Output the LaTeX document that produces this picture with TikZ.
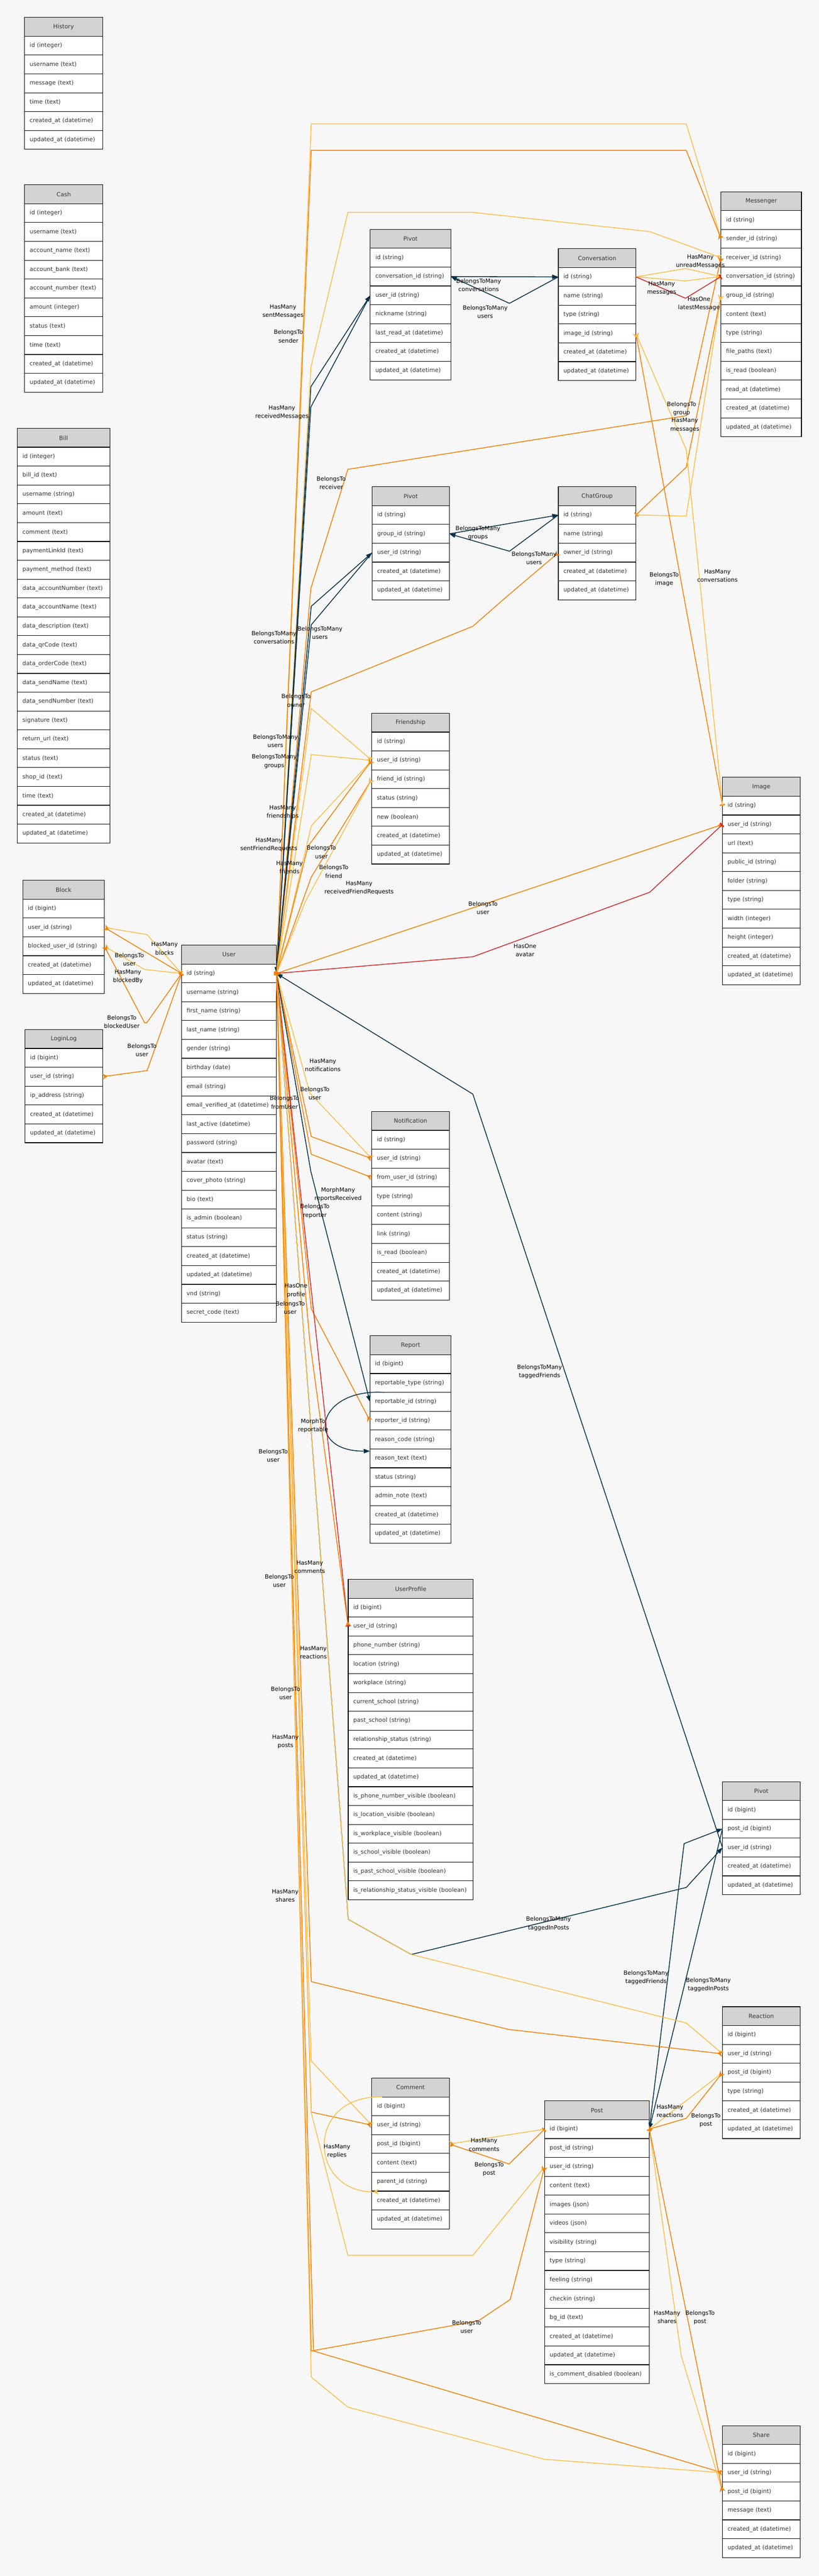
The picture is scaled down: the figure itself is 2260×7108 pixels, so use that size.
\documentclass[tikz,border=0pt]{standalone}
\usepackage{fontspec}
\setmainfont{DejaVu Sans}
\usetikzlibrary{arrows.meta}
\definecolor{bgc}{HTML}{F7F7F7}
\definecolor{hdrc}{HTML}{D3D3D3}
\definecolor{txc}{HTML}{333333}
\definecolor{loc}{HTML}{FCBF49}
\definecolor{orc}{HTML}{F77F00}
\definecolor{nvc}{HTML}{003049}
\definecolor{rdc}{HTML}{D62828}
\tikzset{
  tbl/.style={draw=black, line width=1.6pt, anchor=north west, minimum height=52pt,
    inner xsep=14pt, inner ysep=0pt, outer sep=0pt, text=txc, font=\fontsize{16}{19}\selectfont},
  hdr/.style={tbl, fill=hdrc, align=center},
  rw/.style={tbl, fill=white, align=left},
  lbl/.style={align=center, inner sep=0pt, text=black, font=\fontsize{16}{23}\selectfont},
  edge/.style={line width=2.2pt, line join=round},
  hm/.style={edge, draw=loc, -{Stealth[reversed,length=15pt,width=16pt]}},
  bt/.style={edge, draw=orc, {Stealth[reversed,length=15pt,width=16pt]}-{Rectangle[length=4pt,width=14pt]}},
  ho/.style={edge, draw=rdc, -{Rectangle[length=4pt,width=14pt]}},
  bm/.style={edge, draw=nvc, -{Triangle[length=17pt,width=12pt]}}
}
\newcommand\ertable[6]{%
  \pgfmathsetmacro\ertw{#4-28}%
  \node[hdr, minimum width=#4pt, text width=\ertw pt] (#1) at (#2,#3) {\mbox{#5}};
  \foreach \rowtxt [count=\ri] in {#6}{%
    \node[rw, minimum width=#4pt, text width=\ertw pt] (#1-\ri) at (#2,#3+52*\ri) {\mbox{\rowtxt}};
  }%
}
\begin{document}
\begin{tikzpicture}[x=1pt,y=-1pt]
\fill[bgc] (0,0) rectangle (2260,7108);
\useasboundingbox (0,0) rectangle (2260,7108);

% ---------- tables ----------
\ertable{history}{68}{48}{215}{History}{id (integer),username (text),message (text),time (text),created\_at (datetime),updated\_at (datetime)}
\ertable{cash}{68}{510}{216}{Cash}{id (integer),username (text),account\_name (text),account\_bank (text),account\_number (text),amount (integer),status (text),time (text),created\_at (datetime),updated\_at (datetime)}
\ertable{bill}{48}{1182}{255}{Bill}{id (integer),bill\_id (text),username (string),amount (text),comment (text),paymentLinkId (text),payment\_method (text),data\_accountNumber (text),data\_accountName (text),data\_description (text),data\_qrCode (text),data\_orderCode (text),data\_sendName (text),data\_sendNumber (text),signature (text),return\_url (text),status (text),shop\_id (text),time (text),created\_at (datetime),updated\_at (datetime)}
\ertable{block}{63}{2429}{225}{Block}{id (bigint),user\_id (string),blocked\_user\_id (string),created\_at (datetime),updated\_at (datetime)}
\ertable{loginlog}{69}{2841}{214}{LoginLog}{id (bigint),user\_id (string),ip\_address (string),created\_at (datetime),updated\_at (datetime)}
\ertable{user}{501}{2608}{262}{User}{id (string),username (string),first\_name (string),last\_name (string),gender (string),birthday (date),email (string),email\_verified\_at (datetime),last\_active (datetime),password (string),avatar (text),cover\_photo (string),bio (text),is\_admin (boolean),status (string),created\_at (datetime),updated\_at (datetime),vnd (string),secret\_code (text)}
\ertable{pivotA}{1022}{633}{222}{Pivot}{id (string),conversation\_id (string),user\_id (string),nickname (string),last\_read\_at (datetime),created\_at (datetime),updated\_at (datetime)}
\ertable{conversation}{1541}{686}{214}{Conversation}{id (string),name (string),type (string),image\_id (string),created\_at (datetime),updated\_at (datetime)}
\ertable{messenger}{1990}{529}{222}{Messenger}{id (string),sender\_id (string),receiver\_id (string),conversation\_id (string),group\_id (string),content (text),type (string),file\_paths (text),is\_read (boolean),read\_at (datetime),created\_at (datetime),updated\_at (datetime)}
\ertable{pivotB}{1027}{1343}{213}{Pivot}{id (string),group\_id (string),user\_id (string),created\_at (datetime),updated\_at (datetime)}
\ertable{chatgroup}{1541}{1343}{214}{ChatGroup}{id (string),name (string),owner\_id (string),created\_at (datetime),updated\_at (datetime)}
\ertable{friendship}{1026}{1968}{214}{Friendship}{id (string),user\_id (string),friend\_id (string),status (string),new (boolean),created\_at (datetime),updated\_at (datetime)}
\ertable{image}{1994}{2145}{214}{Image}{id (string),user\_id (string),url (text),public\_id (string),folder (string),type (string),width (integer),height (integer),created\_at (datetime),updated\_at (datetime)}
\ertable{notification}{1026}{3067}{214}{Notification}{id (string),user\_id (string),from\_user\_id (string),type (string),content (string),link (string),is\_read (boolean),created\_at (datetime),updated\_at (datetime)}
\ertable{report}{1021}{3686}{224}{Report}{id (bigint),reportable\_type (string),reportable\_id (string),reporter\_id (string),reason\_code (string),reason\_text (text),status (string),admin\_note (text),created\_at (datetime),updated\_at (datetime)}
\ertable{userprofile}{961}{4358}{345}{UserProfile}{id (bigint),user\_id (string),phone\_number (string),location (string),workplace (string),current\_school (string),past\_school (string),relationship\_status (string),created\_at (datetime),updated\_at (datetime),is\_phone\_number\_visible (boolean),is\_location\_visible (boolean),is\_workplace\_visible (boolean),is\_school\_visible (boolean),is\_past\_school\_visible (boolean),is\_relationship\_status\_visible (boolean)}
\ertable{pivotC}{1994}{4916}{214}{Pivot}{id (bigint),post\_id (bigint),user\_id (string),created\_at (datetime),updated\_at (datetime)}
\ertable{reaction}{1994}{5537}{214}{Reaction}{id (bigint),user\_id (string),post\_id (bigint),type (string),created\_at (datetime),updated\_at (datetime)}
\ertable{comment}{1026}{5734}{214}{Comment}{id (bigint),user\_id (string),post\_id (bigint),content (text),parent\_id (string),created\_at (datetime),updated\_at (datetime)}
\ertable{post}{1503}{5797}{289}{Post}{id (bigint),post\_id (string),user\_id (string),content (text),images (json),videos (json),visibility (string),type (string),feeling (string),checkin (string),bg\_id (text),created\_at (datetime),updated\_at (datetime),is\_comment\_disabled (boolean)}
\ertable{share}{1994}{6693}{214}{Share}{id (bigint),user\_id (string),post\_id (bigint),message (text),created\_at (datetime),updated\_at (datetime)}

% ---------- connectors: messenger / conversation / groups ----------
\draw[hm] (user-1.east) -- (859,342) -- (1894,342) -- (messenger-2.west);
\draw[bt] (messenger-2.west) -- (1894,415) -- (859,415) -- (user-1.east);
\draw[hm] (user-1.east) -- (858,1013) -- (960,586) -- (1305,586) -- (1793,639) -- (messenger-3.west);
\draw[bt] (messenger-3.west) -- (1894,1147) -- (960,1295) -- (858,1623) -- (user-1.east);
\draw[bm] (user-1.east) -- (858,1067) -- (pivotA-3.west);
\draw[bm] (pivotA-3.west) -- (858,1123) -- (user-1.east);
\draw[bm] (pivotA-2.east) -- (conversation-1.west);
\draw[bm] (conversation-1.west) -- (1406,837) -- (pivotA-2.east);
\draw[hm] (conversation-1.east) -- (1892,741) -- (messenger-4.west);
\draw[hm] (conversation-1.east) -- (1892,775) -- (messenger-4.west);
\draw[ho] (conversation-1.east) -- (1892,823) -- (messenger-4.west);
\draw[bt] (messenger-5.west) -- (1894,1289) -- (chatgroup-1.east);
\draw[hm] (chatgroup-1.east) -- (1894,1424) -- (messenger-5.west);
\draw[bm] (pivotB-2.east) -- (chatgroup-1.west);
\draw[bm] (chatgroup-1.west) -- (1406,1521) -- (pivotB-2.east);
\draw[bm] (user-1.east) -- (859,1673) -- (pivotB-3.west);
\draw[bm] (pivotB-3.west) -- (859,1724) -- (user-1.east);
\draw[bt] (chatgroup-3.west) -- (1394,1650) -- (1305,1728) -- (859,1909) -- (user-1.east);
\draw[bt] (conversation-4.east) -- (1888,1650) -- (image-1.west);
\draw[hm] (image-1.west) -- (1936,1650) -- (1894,1241) -- (conversation-4.east);

% ---------- friendship / image ----------
\draw[hm] (user-1.east) -- (859,1955) -- (friendship-2.west);
\draw[hm] (user-1.east) -- (859,2082) -- (friendship-2.west);
\draw[hm] (user-1.east) -- (859,2279) -- (friendship-2.west);
\draw[bt] (friendship-2.west) -- (850,2335) -- (user-1.east);
\draw[bt] (friendship-3.west) -- (859,2420) -- (user-1.east);
\draw[hm] (user-1.east) -- (843,2487) -- (friendship-3.west);
\draw[bt] (image-2.west) -- (user-1.east);
\draw[ho] (user-1.east) -- (1305,2640) -- (1793,2462) -- (image-2.west);

% ---------- block / loginlog ----------
\draw[hm] (user-1.west) -- (406,2579) -- (block-2.east);
\draw[bt] (block-2.east) -- (user-1.west);
\draw[hm] (user-1.west) -- (399,2675) -- (block-3.east);
\draw[bt] (block-3.east) -- (399,2822) -- (405,2822) -- (user-1.west);
\draw[bt] (loginlog-2.east) -- (406,2954) -- (user-1.west);

% ---------- notification / report / profile ----------
\draw[hm] (user-1.east) -- (855,3016) -- (notification-2.west);
\draw[bt] (notification-2.west) -- (859,3136) -- (user-1.east);
\draw[bt] (notification-3.west) -- (859,3185) -- (user-1.east);
\draw[bm] (user-1.east) -- (858,3233) -- (report-3.west);
\draw[bt] (report-4.west) -- (859,3611) -- (user-1.east);
\coordinate (rloopA) at (1061,3842);
\coordinate (rloopB) at (1021,4004);
\draw[bm] (rloopA) .. controls (870,3830) and (840,4005) .. (rloopB);
\draw[ho] (user-1.east) -- (userprofile-2.west);
\draw[bt] (userprofile-2.west) -- (855,3700) -- (user-1.east);

% ---------- tagged pivot ----------
\draw[bm] (pivotC-3.west) -- (1305,3019) -- (user-1.east);
\draw[bm] (user-1.east) -- (961,5296) -- (1135,5393) -- (1894,5208) -- (pivotC-3.west);
\draw[bm] (post-1.east) -- (1888,5087) -- (pivotC-2.west);
\draw[bm] (pivotC-2.west) -- (post-1.east);

% ---------- reaction ----------
\draw[hm] (user-1.east) -- (961,5296) -- (1135,5393) -- (1894,5582) -- (reaction-2.west);
\draw[bt] (reaction-2.west) -- (1405,5600) -- (859,5468) -- (user-1.east);
\draw[hm] (post-1.east) -- (reaction-3.west);
\draw[bt] (reaction-3.west) -- (1894,5845) -- (post-1.east);

% ---------- comment ----------
\draw[hm] (user-1.east) -- (859,5687) -- (comment-2.west);
\draw[bt] (comment-2.west) -- (859,5828) -- (user-1.east);
\draw[hm] (post-1.west) -- (comment-3.east);
\draw[bt] (comment-3.east) -- (1405,5971) -- (post-1.west);
\coordinate (cloopA) at (1055,5786);
\coordinate (cloopB) at (1045,6048);
\draw[hm] (cloopA) .. controls (840,5780) and (850,6050) .. (cloopB);

% ---------- post / share ----------
\draw[hm] (user-1.east) -- (859,5830) -- (960,6223) -- (1305,6223) -- (post-3.west);
\draw[bt] (post-3.west) -- (1408,6345) -- (1320,6404) -- (859,6487) -- (user-1.east);
\draw[hm] (user-1.east) -- (859,6559) -- (960,6642) -- (1503,6786) -- (share-2.west);
\draw[bt] (share-2.west) -- (865,6487) -- (user-1.east);
\draw[hm] (post-1.east) -- (1880,6500) -- (share-3.west);
\draw[bt] (share-3.west) -- (post-1.east);

% ---------- labels ----------
\node[lbl] (L01) at (781,860) {HasMany\\sentMessages};
\node[lbl] (L02) at (796,928) {BelongsTo\\sender};
\node[lbl] (L03) at (778,1138) {HasMany\\receivedMessages};
\node[lbl] (L04) at (914,1333) {BelongsTo\\receiver};
\node[lbl] (L05) at (1321,787) {BelongsToMany\\conversations};
\node[lbl] (L06) at (1339,861) {BelongsToMany\\users};
\node[lbl] (L07) at (1933,722) {HasMany\\unreadMessages};
\node[lbl] (L08) at (1826,795) {HasMany\\messages};
\node[lbl] (L09) at (1929,838) {HasOne\\latestMessage};
\node[lbl] (L10) at (1881,1128) {BelongsTo\\group};
\node[lbl] (L11) at (1890,1173) {HasMany\\messages};
\node[lbl] (L12) at (1319,1471) {BelongsToMany\\groups};
\node[lbl] (L13) at (1474,1540) {BelongsToMany\\users};
\node[lbl] (L14) at (1833,1598) {BelongsTo\\image};
\node[lbl] (L15) at (1980,1589) {HasMany\\conversations};
\node[lbl] (L16) at (756,1759) {BelongsToMany\\conversations};
\node[lbl] (L17) at (883,1746) {BelongsToMany\\users};
\node[lbl] (L18) at (817,1933) {BelongsTo\\owner};
\node[lbl] (L19) at (760,2045) {BelongsToMany\\users};
\node[lbl] (L20) at (757,2101) {BelongsToMany\\groups};
\node[lbl] (L21) at (780,2241) {HasMany\\friendships};
\node[lbl] (L22) at (742,2331) {HasMany\\sentFriendRequests};
\node[lbl] (L23) at (887,2351) {BelongsTo\\user};
\node[lbl] (L24) at (799,2393) {HasMany\\friends};
\node[lbl] (L25) at (921,2405) {BelongsTo\\friend};
\node[lbl] (L26) at (991,2450) {HasMany\\receivedFriendRequests};
\node[lbl] (L27) at (1333,2505) {BelongsTo\\user};
\node[lbl] (L28) at (1449,2622) {HasOne\\avatar};
\node[lbl] (L29) at (454,2617) {HasMany\\blocks};
\node[lbl] (L30) at (357,2648) {BelongsTo\\user};
\node[lbl] (L31) at (353,2695) {HasMany\\blockedBy};
\node[lbl] (L32) at (336,2819) {BelongsTo\\blockedUser};
\node[lbl] (L33) at (392,2898) {BelongsTo\\user};
\node[lbl] (L34) at (891,2939) {HasMany\\notifications};
\node[lbl] (L35) at (869,3017) {BelongsTo\\user};
\node[lbl] (L36) at (785,3042) {BelongsTo\\fromUser};
\node[lbl] (L37) at (933,3296) {MorphMany\\reportsReceived};
\node[lbl] (L38) at (869,3342) {BelongsTo\\reporter};
\node[lbl] (L39) at (817,3561) {HasOne\\profile};
\node[lbl] (L40) at (801,3608) {BelongsTo\\user};
\node[lbl] (L41) at (1489,3785) {BelongsToMany\\taggedFriends};
\node[lbl] (L42) at (864,3934) {MorphTo\\reportable};
\node[lbl] (L43) at (754,4016) {BelongsTo\\user};
\node[lbl] (L44) at (855,4324) {HasMany\\comments};
\node[lbl] (L45) at (771,4362) {BelongsTo\\user};
\node[lbl] (L46) at (865,4560) {HasMany\\reactions};
\node[lbl] (L47) at (788,4672) {BelongsTo\\user};
\node[lbl] (L48) at (788,4806) {HasMany\\posts};
\node[lbl] (L49) at (787,5231) {HasMany\\shares};
\node[lbl] (L50) at (1514,5308) {BelongsToMany\\taggedInPosts};
\node[lbl] (L51) at (1783,5457) {BelongsToMany\\taggedFriends};
\node[lbl] (L52) at (1955,5476) {BelongsToMany\\taggedInPosts};
\node[lbl] (L53) at (1849,5825) {HasMany\\reactions};
\node[lbl] (L54) at (1948,5850) {BelongsTo\\post};
\node[lbl] (L55) at (1336,5918) {HasMany\\comments};
\node[lbl] (L56) at (930,5936) {HasMany\\replies};
\node[lbl] (L57) at (1350,5986) {BelongsTo\\post};
\node[lbl] (L58) at (1288,6420) {BelongsTo\\user};
\node[lbl] (L59) at (1841,6394) {HasMany\\shares};
\node[lbl] (L60) at (1932,6395) {BelongsTo\\post};
\end{tikzpicture}
\end{document}
